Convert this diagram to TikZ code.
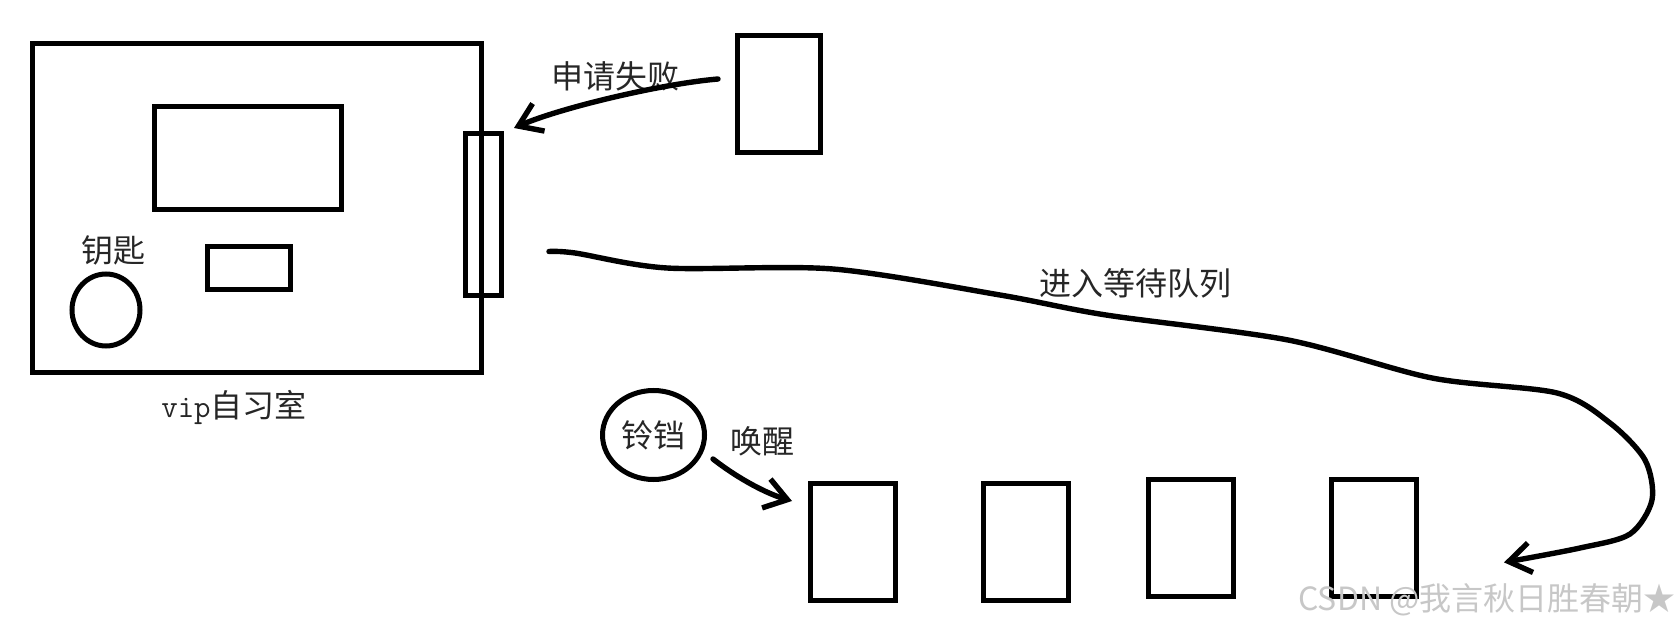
\documentclass[tikz,border=0pt]{standalone}
\usepackage{fontspec}
\newfontfamily\cjk{Noto Sans CJK SC}
\usetikzlibrary{shapes.geometric,arrows.meta,positioning}

\begin{document}
\begin{tikzpicture}[
  x=0.5pt, y=-0.5pt,
  box/.style={rectangle, draw, line width=2.5pt, inner sep=0pt},
  seat/.style={box, minimum width=42.5pt, minimum height=58.5pt},
  ring/.style={ellipse, draw, line width=2.5pt, inner sep=0pt},
  txt/.style={font=\cjk\fontsize{16}{18}\selectfont, text=black!85, inner sep=0pt},
  arr/.style={-{Straight Barb[length=11pt,width=15pt]}, line width=2.7pt, line cap=round, line join=round}
]
\useasboundingbox (0,0) rectangle (1680,630);

% vip room
\node[box, minimum width=224.5pt, minimum height=164.5pt] (room) at (256.5,208.5) {};
\node[box, minimum width=93.5pt, minimum height=51.5pt] (screen) at (248,158) {};
\node[box, minimum width=41.5pt, minimum height=21.5pt] (desk) at (248.5,268.5) {};
\node[ring, minimum width=34pt, minimum height=36pt] (key) at (106,310) {};
\node[txt] (keylbl) at (113,250) {钥匙};
\node[box, minimum width=18pt, minimum height=81pt, yshift=-3pt] (door) at (room.east) {};
\node[txt] (roomlbl) at (234,407) {{\ttfamily vip}自习室};

% applicant
\node[box, minimum width=41.5pt, minimum height=58.5pt] (app) at (779,94) {};
\node[txt] (faillbl) at (615,76) {申请失败};
\draw[arr] ([shift={(-17,-15)}]app.west) .. controls (660,84) and (560,108) .. ([shift={(10,-3)}]door.north east);

% waiting queue
\node[seat] (seat1) at (853,542) {};
\node[seat, right=41.5pt of seat1] (seat2) {};
\node[seat, right=37.5pt of seat2, yshift=1.8pt] (seat3) {};
\node[seat, right=46.5pt of seat3] (seat4) {};
\node[txt] (queuelbl) at (1135,283) {进入等待队列};
\draw[arr] plot[smooth, tension=0.5] coordinates {([shift={(45,37)}]door.east) (575,253) (667,268) (833,269) (1000,295) (1106,315) (1288,340) (1432,378) (1557,393) (1610,423) (1645,460) (1652,500) (1630,534) (1580,548) ([shift={(85,24)}]seat4.east)};

% bell
\node[ring, txt, draw, line width=2.5pt, minimum width=51pt, minimum height=44.5pt] (bell) at (653.5,435) {铃铛};
\node[txt] (wakelbl) at (762,441) {唤醒};
\draw[arr] ([shift={(6,24)}]bell.east) .. controls (740,480) and (768,494) .. ([shift={(-16,20)}]seat1.north west);

\node[font=\cjk\fontsize{16}{18}\selectfont, text=black!22, anchor=east, inner sep=0pt] (mark) at (1676,600) {CSDN @我言秋日胜春朝★};
\end{tikzpicture}
\end{document}
